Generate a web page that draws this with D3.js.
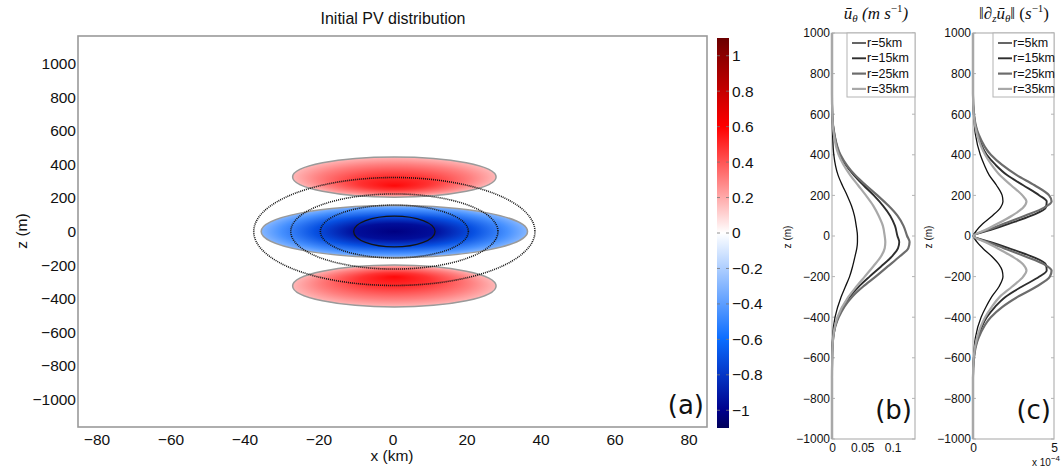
<!DOCTYPE html>
<html>
<head>
<meta charset="utf-8">
<script src="https://cdn.jsdelivr.net/npm/d3@7"></script>
<style>
body { margin: 0; background: #fff; }
svg text { font-family: "Liberation Sans", Arial, sans-serif; fill: #111; }
.math { font-family: "Liberation Serif", "DejaVu Serif", serif; font-style: italic; }
.tag { font-family: "DejaVu Sans", sans-serif; }
</style>
</head>
<body>
<svg id="fig" width="1062" height="468"></svg>
<script>
// ---------- data ----------
// panel (a): PV field (blobs) and contours
const xTicksA = [-80, -60, -40, -20, 0, 20, 40, 60, 80];
const zTicksA = [-1000, -800, -600, -400, -200, 0, 200, 400, 600, 800, 1000];
const pvTicks = [-1, -0.8, -0.6, -0.4, -0.2, 0, 0.2, 0.4, 0.6, 0.8, 1];
const pvStops = [-1.1, -1, -0.6, 0, 0.6, 1, 1.1];
const pvColors = ["#00005a", "#00008c", "#0a6cff", "#ffffff", "#ff0000", "#8c0000", "#6a0000"];

const blobX = [0.5, 0.5, 0.5];        // km
const blobZ = [0, 325, -325];         // m
const blobRx = [36, 27.5, 27.5];      // km
const blobRz = [155, 120, 125];       // m
const blobFy = [0.5, 0.72, 0.28];
const blobKind = ["neg", "pos", "pos"];
const blueStopOffsets = [0, 0.3, 0.6, 0.85, 1];
const blueStopValues = [-1.02, -0.95, -0.7, -0.45, -0.3];
const redStopOffsets = [0, 0.35, 0.75, 1];
const redStopValues = [0.58, 0.48, 0.3, 0.17];

const contourRx = [38, 28, 20, 11];   // km
const contourRz = [322, 224, 158, 92]; // m
const contourDotted = [true, true, true, false];

// panels (b), (c)
const radii = ["r=5km", "r=15km", "r=25km", "r=35km"];
const zTicksB = [-1000, -800, -600, -400, -200, 0, 200, 400, 600, 800, 1000];

const zB = [1000, 800, 700, 600, 500, 400, 300, 250, 200, 150, 100, 50, 0, -30, -60, -100, -150, -200, -250, -300, -400, -500, -600, -700, -800, -1000];
const u5  = [0, 0, 0, 0.0003, 0.001, 0.003, 0.010, 0.017, 0.025, 0.032, 0.037, 0.040, 0.042, 0.042, 0.041, 0.038, 0.034, 0.029, 0.022, 0.015, 0.005, 0.001, 0.0002, 0, 0, 0];
const u15 = [0, 0, 0, 0.0005, 0.004, 0.013, 0.036, 0.052, 0.069, 0.084, 0.096, 0.104, 0.108, 0.111, 0.109, 0.099, 0.081, 0.062, 0.044, 0.029, 0.010, 0.002, 0.0003, 0, 0, 0];
const u25 = [0, 0, 0, 0.0005, 0.004, 0.014, 0.038, 0.056, 0.075, 0.093, 0.108, 0.118, 0.124, 0.128, 0.126, 0.112, 0.092, 0.072, 0.051, 0.033, 0.011, 0.002, 0.0003, 0, 0, 0];
const u35 = [0, 0, 0, 0.0005, 0.003, 0.011, 0.030, 0.043, 0.056, 0.068, 0.077, 0.084, 0.087, 0.088, 0.087, 0.081, 0.068, 0.054, 0.040, 0.027, 0.009, 0.002, 0.0003, 0, 0, 0];

const zC = [1000, 700, 600, 500, 400, 350, 300, 250, 200, 170, 140, 100, 60, 30, 0, -30, -60, -100, -140, -170, -200, -250, -300, -350, -400, -500, -600, -700, -1000];
const s5  = [0, 0, 0.05, 0.15, 0.45, 0.7, 1.0, 1.45, 1.8, 1.85, 1.7, 1.2, 0.6, 0.25, 0.02, 0.25, 0.6, 1.15, 1.6, 1.8, 1.85, 1.6, 1.15, 0.8, 0.5, 0.15, 0.04, 0, 0];
const s15 = [0, 0, 0.05, 0.3, 0.85, 1.4, 2.1, 3.1, 4.1, 4.55, 4.5, 3.6, 2.2, 1.1, 0.02, 1.1, 2.2, 3.6, 4.5, 4.55, 4.1, 3.0, 2.0, 1.35, 0.85, 0.3, 0.05, 0, 0];
const s25 = [0, 0, 0.06, 0.35, 1.1, 1.8, 2.7, 3.8, 4.7, 4.85, 4.4, 3.2, 1.9, 0.9, 0.02, 0.9, 1.9, 3.2, 4.4, 4.85, 4.75, 3.9, 2.75, 1.8, 1.1, 0.35, 0.06, 0, 0];
const s35 = [0, 0, 0.04, 0.25, 0.75, 1.15, 1.65, 2.35, 3.05, 3.3, 3.1, 2.4, 1.5, 0.75, 0.02, 0.75, 1.5, 2.4, 3.1, 3.3, 3.1, 2.4, 1.65, 1.15, 0.75, 0.25, 0.04, 0, 0];

const lineColors = ["#111111", "#2e2e2e", "#6c6c6c", "#a8a8a8"];
const lineWidths = [1.3, 1.9, 2.2, 2.2];

// ---------- drawing ----------
const svg = d3.select("#fig");
const defs = svg.append("defs");
const fmt = d => (d < 0 ? "\u2212" : "") + Math.abs(d);

const pvColor = d3.scaleLinear().domain(pvStops).range(pvColors);

// ---- panel (a)
const xA = d3.scaleLinear().domain([-85, 85]).range([78, 707]);
const yA = d3.scaleLinear().domain([-1166, 1166]).range([427, 36]);
const gA = svg.append("g");

blobKind.forEach((k, i) => {
  const grad = defs.append("radialGradient").attr("id", "blob" + i)
    .attr("cx", 0.5).attr("cy", 0.5).attr("r", 0.5)
    .attr("fx", 0.5).attr("fy", blobFy[i]);
  const offs = k === "neg" ? blueStopOffsets : redStopOffsets;
  const vals = k === "neg" ? blueStopValues : redStopValues;
  offs.forEach((o, j) => grad.append("stop").attr("offset", o).attr("stop-color", pvColor(vals[j])));
});

gA.selectAll("ellipse.blob")
  .data(d3.range(blobX.length))
  .join("ellipse")
  .attr("class", "blob")
  .attr("cx", i => xA(blobX[i]))
  .attr("cy", i => yA(blobZ[i]))
  .attr("rx", i => xA(blobX[i] + blobRx[i]) - xA(blobX[i]))
  .attr("ry", i => yA(blobZ[i] - blobRz[i]) - yA(blobZ[i]))
  .attr("fill", i => `url(#blob${i})`)
  .attr("stroke", "#9a9a9a")
  .attr("stroke-width", 1.5);

gA.selectAll("ellipse.cont")
  .data(d3.range(contourRx.length))
  .join("ellipse")
  .attr("class", "cont")
  .attr("cx", xA(0.5))
  .attr("cy", yA(0))
  .attr("rx", i => xA(0.5 + contourRx[i]) - xA(0.5))
  .attr("ry", i => yA(-contourRz[i]) - yA(0))
  .attr("fill", "none")
  .attr("stroke", "#141414")
  .attr("stroke-width", i => contourDotted[i] ? 1.6 : 1.3)
  .attr("stroke-dasharray", i => contourDotted[i] ? "1,1" : null);

gA.append("rect")
  .attr("x", xA(-85)).attr("y", yA(1166))
  .attr("width", xA(85) - xA(-85)).attr("height", yA(-1166) - yA(1166))
  .attr("fill", "none").attr("stroke", "#9a9a9a").attr("stroke-width", 1.6);

const axA = gA.append("g").attr("transform", "translate(0,427)")
  .call(d3.axisBottom(xA).tickValues(xTicksA).tickSize(0).tickPadding(7).tickFormat(fmt));
const ayA = gA.append("g").attr("transform", "translate(78,0)")
  .call(d3.axisLeft(yA).tickValues(zTicksA).tickSize(0).tickPadding(2).tickFormat(fmt));
[axA, ayA].forEach(a => {
  a.select(".domain").remove();
  a.selectAll("text").attr("font-size", 15.5).attr("font-family", "Liberation Sans, Arial, sans-serif").attr("fill", "#111");
});

gA.append("text").attr("x", 393).attr("y", 24).attr("text-anchor", "middle")
  .attr("font-size", 16).text("Initial PV distribution");
gA.append("text").attr("x", 392).attr("y", 461).attr("text-anchor", "middle")
  .attr("font-size", 15.5).text("x (km)");
gA.append("text").attr("transform", "translate(27,231) rotate(-90)").attr("text-anchor", "middle")
  .attr("font-size", 15.5).text("z (m)");
gA.append("text").attr("class", "tag").attr("x", 704).attr("y", 414).attr("text-anchor", "end")
  .attr("font-size", 26).text("(a)");

// colorbar
const yCb = d3.scaleLinear().domain([-1.1, 1.1]).range([428, 38]);
const cbGrad = defs.append("linearGradient").attr("id", "cbar")
  .attr("x1", 0).attr("y1", 1).attr("x2", 0).attr("y2", 0);
pvStops.forEach(v => cbGrad.append("stop")
  .attr("offset", (v + 1.1) / 2.2).attr("stop-color", pvColor(v)));
const cbX0 = 717, cbX1 = 729;
gA.append("rect").attr("x", cbX0).attr("y", yCb(1.1))
  .attr("width", cbX1 - cbX0).attr("height", yCb(-1.1) - yCb(1.1))
  .attr("fill", "url(#cbar)");
gA.selectAll("line.cbt").data(pvTicks).join("line").attr("class", "cbt")
  .attr("x1", cbX1 - 3).attr("x2", cbX1).attr("y1", d => yCb(d)).attr("y2", d => yCb(d))
  .attr("stroke", "#777").attr("stroke-width", 0.8);
gA.selectAll("line.cbt2").data(pvTicks).join("line").attr("class", "cbt2")
  .attr("x1", cbX0).attr("x2", cbX0 + 3).attr("y1", d => yCb(d)).attr("y2", d => yCb(d))
  .attr("stroke", "#777").attr("stroke-width", 0.8);
const acb = gA.append("g").attr("transform", `translate(${cbX1},0)`)
  .call(d3.axisRight(yCb).tickValues(pvTicks).tickSize(0).tickPadding(3).tickFormat(fmt));
acb.select(".domain").remove();
acb.selectAll("text").attr("font-size", 15.5).attr("font-family", "Liberation Sans, Arial, sans-serif").attr("fill", "#111");

// ---- profile panels
function profilePanel(opt) {
  const g = svg.append("g");
  const x = d3.scaleLinear().domain(opt.xDomain).range([opt.left, opt.right]);
  const y = d3.scaleLinear().domain([-1000, 1000]).range([439, 33]);

  g.append("rect").attr("x", opt.left).attr("y", 33)
    .attr("width", opt.right - opt.left).attr("height", 406)
    .attr("fill", "none").attr("stroke", "#b4b4b4").attr("stroke-width", 1.2);

  // inner ticks
  g.selectAll("line.yt").data(zTicksB).join("line").attr("class", "yt")
    .attr("x1", opt.right - 3).attr("x2", opt.right).attr("y1", d => y(d)).attr("y2", d => y(d))
    .attr("stroke", "#b4b4b4");
  g.selectAll("line.yt2").data(zTicksB).join("line").attr("class", "yt2")
    .attr("x1", opt.left).attr("x2", opt.left + 3).attr("y1", d => y(d)).attr("y2", d => y(d))
    .attr("stroke", "#b4b4b4");

  const line = d3.line().curve(d3.curveMonotoneY).x(d => x(d[0])).y(d => y(d[1]));
  opt.series.forEach((s, i) => {
    g.append("path")
      .datum(s.map((v, j) => [v, opt.z[j]]))
      .attr("d", line)
      .attr("fill", "none")
      .attr("stroke", lineColors[i])
      .attr("stroke-width", lineWidths[i]);
  });

  const ay = g.append("g").attr("transform", `translate(${opt.left},0)`)
    .call(d3.axisLeft(y).tickValues(zTicksB).tickSize(0).tickPadding(2).tickFormat(fmt));
  const ax = g.append("g").attr("transform", "translate(0,439)")
    .call(d3.axisBottom(x).tickValues(opt.xTicks).tickSize(0).tickPadding(4.5).tickFormat(opt.xFormat));
  [ax, ay].forEach(a => {
    a.select(".domain").remove();
    a.selectAll("text").attr("font-size", 12).attr("font-family", "Liberation Sans, Arial, sans-serif").attr("fill", "#111");
  });

  // legend
  const lg = g.append("g");
  lg.append("rect").attr("x", opt.legX).attr("y", 33)
    .attr("width", opt.right - opt.legX).attr("height", 64)
    .attr("fill", "#fff").attr("stroke", "#b4b4b4").attr("stroke-width", 1);
  radii.forEach((r, i) => {
    const yy = 43 + i * 15.3;
    lg.append("line").attr("x1", opt.legX + 5).attr("x2", opt.legX + 19)
      .attr("y1", yy).attr("y2", yy)
      .attr("stroke", lineColors[i]).attr("stroke-width", lineWidths[i]);
    lg.append("text").attr("x", opt.legX + 20).attr("y", yy)
      .attr("dominant-baseline", "central").attr("font-size", 12.5).text(r);
  });

  g.append("text").attr("transform", `translate(${opt.zLabelX},237) rotate(-90)`)
    .attr("text-anchor", "middle").attr("font-size", 10).text("z (m)");
  g.append("text").attr("class", "tag").attr("x", opt.right - 3).attr("y", 419)
    .attr("text-anchor", "end").attr("font-size", 26).text(opt.tag);
  return g;
}

const gB = profilePanel({
  left: 832, right: 915, xDomain: [0, 0.137], xTicks: [0, 0.05, 0.1],
  xFormat: d => String(d), z: zB, series: [u5, u15, u25, u35],
  legX: 847, zLabelX: 791, tag: "(b)"
});
const tB = gB.append("text").attr("class", "math").attr("x", 876).attr("y", 19)
  .attr("text-anchor", "middle").attr("font-size", 17);
tB.append("tspan").text("\u016B");
tB.append("tspan").attr("font-size", 11).attr("dy", 3).text("\u03B8");
tB.append("tspan").attr("dy", -3).text(" (m  s");
tB.append("tspan").attr("font-size", 11).attr("dy", -7).attr("font-style", "normal").text("\u22121");
tB.append("tspan").attr("dy", 7).text(")");

const gC = profilePanel({
  left: 973, right: 1054, xDomain: [0, 5], xTicks: [0, 5],
  xFormat: d => String(d), z: zC, series: [s5, s15, s25, s35],
  legX: 993, zLabelX: 932, tag: "(c)"
});
const tC = gC.append("text").attr("class", "math").attr("x", 1014).attr("y", 19)
  .attr("text-anchor", "middle").attr("font-size", 17);
tC.append("tspan").attr("font-style", "normal").text("\u2016\u2202");
tC.append("tspan").attr("font-size", 11).attr("dy", 3).text("z");
tC.append("tspan").attr("dy", -3).text("\u016B");
tC.append("tspan").attr("font-size", 11).attr("dy", 3).text("\u03B8");
tC.append("tspan").attr("dy", -3).attr("font-style", "normal").text("\u2016 (");
tC.append("tspan").text("s");
tC.append("tspan").attr("font-size", 11).attr("dy", -7).attr("font-style", "normal").text("\u22121");
tC.append("tspan").attr("dy", 7).attr("font-style", "normal").text(")");

const tX = gC.append("text").attr("x", 1046).attr("y", 466).attr("text-anchor", "middle").attr("font-size", 10);
tX.append("tspan").text("x 10");
tX.append("tspan").attr("font-size", 8).attr("dy", -5).text("\u22124");
</script>
</body>
</html>
